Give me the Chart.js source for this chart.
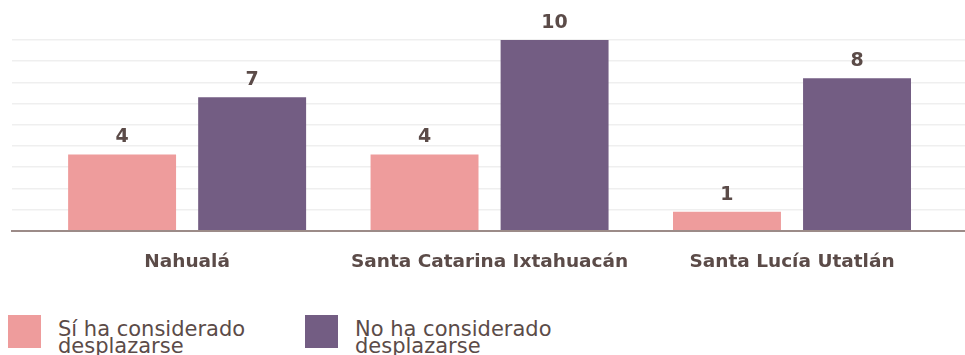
<!DOCTYPE html>
<html lang="es">
<head>
<meta charset="utf-8">
<script src="https://cdn.jsdelivr.net/npm/chart.js@4.4.1/dist/chart.umd.min.js"></script>
<style>
  html, body { margin: 0; padding: 0; background: #fff; }
  body { width: 965px; height: 355px; overflow: hidden; position: relative; font-family: "DejaVu Sans", sans-serif; }
  #wrap { position: absolute; left: 0; top: 0; width: 965px; height: 300px; }
  .item { position: absolute; top: 315px; display: flex; align-items: flex-start; }
  .box { width: 33px; height: 33px; margin-right: 17px; }
  .lbl { font-size: 21px; line-height: 17px; color: #5b4b48; padding-top: 6px; }
</style>
</head>
<body>
<div id="wrap"><canvas id="chart"></canvas></div>
<div id="legend"></div>
<script>
const municipios = ['Nahualá', 'Santa Catarina Ixtahuacán', 'Santa Lucía Utatlán'];
const siConsiderado = [4, 4, 1];
const noConsiderado = [7, 10, 8];
const seriesNames = [['Sí ha considerado', 'desplazarse'], ['No ha considerado', 'desplazarse']];
const seriesColors = ['#ee9c9c', '#735d83'];

const textColor = '#5b4b48';
const yMax = 10;
const gridCount = 9;
const legendLeft = [8, 305];

// etiquetas de valor encima de cada barra
const valueLabels = {
    id: 'valueLabels',
    afterDatasetsDraw(chart) {
        const ctx = chart.ctx;
        ctx.save();
        ctx.font = 'bold 19px "DejaVu Sans"';
        ctx.fillStyle = textColor;
        ctx.textAlign = 'center';
        ctx.textBaseline = 'middle';
        chart.data.datasets.forEach((ds, i) => {
            chart.getDatasetMeta(i).data.forEach((bar, j) => {
                ctx.fillText(ds.data[j].y, bar.x, bar.y - 17);
            });
        });
        ctx.restore();
    }
};

const toPoints = arr => arr.map((v, i) => ({ x: i, y: v }));

const chart = new Chart(document.getElementById('chart'), {
    type: 'bar',
    data: {
        datasets: [{
            label: seriesNames[0].join(' '),
            data: toPoints(siConsiderado),
            backgroundColor: seriesColors[0]
        }, {
            label: seriesNames[1].join(' '),
            data: toPoints(noConsiderado),
            backgroundColor: seriesColors[1]
        }]
    },
    options: {
        responsive: true,
        maintainAspectRatio: false,
        animation: false,
        categoryPercentage: 0.86,
        barPercentage: 0.83,
        layout: { padding: { top: 40, left: 12, right: 0, bottom: 7 } },
        plugins: { legend: { display: false }, tooltip: { enabled: false } },
        scales: {
            x: {
                type: 'linear',
                offset: false,
                min: -0.579,
                max: 2.572,
                afterBuildTicks: scale => {
                    scale.ticks = municipios.map((m, i) => ({ value: i }));
                },
                grid: { display: false, drawTicks: false, offset: false },
                border: { color: '#9c8b88', width: 2 },
                ticks: {
                    padding: 20,
                    color: textColor,
                    font: { family: '"DejaVu Sans"', size: 18.5, weight: 'bold' },
                    callback: (v, i) => municipios[i]
                }
            },
            y: {
                min: 0,
                max: yMax,
                afterBuildTicks: scale => {
                    const t = [];
                    for (let k = 0; k <= gridCount; k++) t.push({ value: yMax * k / gridCount });
                    scale.ticks = t;
                },
                grid: { color: '#efefef', lineWidth: 1.5, drawTicks: false },
                border: { display: false },
                ticks: { display: false }
            }
        }
    },
    plugins: [valueLabels]
});

// leyenda en HTML
const legend = document.getElementById('legend');
chart.data.datasets.forEach((ds, i) => {
    const item = document.createElement('div');
    item.className = 'item';
    item.style.left = legendLeft[i] + 'px';
    const box = document.createElement('div');
    box.className = 'box';
    box.style.background = ds.backgroundColor;
    const lbl = document.createElement('div');
    lbl.className = 'lbl';
    lbl.innerHTML = seriesNames[i].join('<br>');
    item.appendChild(box);
    item.appendChild(lbl);
    legend.appendChild(item);
});
</script>
</body>
</html>
